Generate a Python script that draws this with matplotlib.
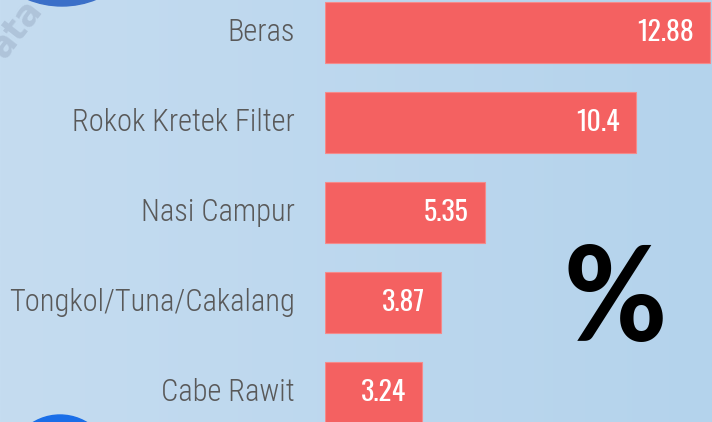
import matplotlib
matplotlib.use("Agg")
import matplotlib.pyplot as plt
import numpy as np
from matplotlib.patches import Circle
from matplotlib.colors import LinearSegmentedColormap
from matplotlib import font_manager as fm

categories = ["Beras", "Rokok Kretek Filter", "Nasi Campur", "Tongkol/Tuna/Cakalang", "Cabe Rawit"]
values = [12.88, 10.4, 5.35, 3.87, 3.24]
value_labels = ["12.88", "10.4", "5.35", "3.87", "3.24"]

W, H = 712, 422
fig = plt.figure(figsize=(W / 100, H / 100), dpi=100)

names = set(f.name for f in fm.fontManager.ttflist)
def pick(cands):
    return [c for c in cands if c in names] + ["DejaVu Sans"]
lab_family = pick(["Roboto Condensed", "Barlow Semi Condensed", "Archivo Narrow"])
val_family = pick(["Oswald", "Roboto Condensed", "Barlow Condensed"])
pct_family = pick(["Carlito", "Open Sans", "Lato"])

# background gradient
bg = fig.add_axes([0, 0, 1, 1])
grad = np.linspace(0, 1, 256)[None, :]
cmap = LinearSegmentedColormap.from_list("bg", ["#C5DCF0", "#B4D3EC"])
bg.imshow(grad, aspect="auto", cmap=cmap, extent=[0, W, H, 0])
bg.set_xlim(0, W)
bg.set_ylim(H, 0)
bg.axis("off")
bg.add_patch(Circle((62, -85), 91, color="#3B6FC8", zorder=2))
bg.add_patch(Circle((60, 467), 52, color="#1A6EE8", zorder=2))
bg.text(16, 28, "ata", rotation=52, fontsize=25, color="#AFC4DA", ha="center", va="center",
        fontweight="bold", zorder=1)

# bars axis
x0 = 325
px_per_unit = 29.9
ax = fig.add_axes([x0 / W, 0, 1 - x0 / W, 1])
ax.patch.set_alpha(0)
y = np.arange(len(categories))
ax.barh(y, values, height=0.68, color="#F46161", edgecolor="#F58A8A", linewidth=0.8, zorder=3)
ax.set_xlim(0, (W - x0) / px_per_unit)
ax.set_ylim((H - 32.5) / 90, -32.5 / 90)
ax.axis("off")

for yi, v, lab in zip(y, values, value_labels):
    ax.annotate(lab, (v, yi), xytext=(-16, 0), textcoords="offset pixels", ha="right", va="center",
                color="white", fontsize=20, fontweight="heavy", family=val_family)
for yi, c in zip(y, categories):
    ax.annotate(c, (0, yi), xytext=(-30, 0), textcoords="offset pixels", ha="right", va="center",
                color="#595959", fontsize=22, fontweight="light", family=lab_family,
                annotation_clip=False)

fig.text(615 / W, 1 - 341 / H, "%", fontsize=100, fontweight="bold", color="black", ha="center",
         va="baseline", family=pct_family)

fig.savefig("out.png", dpi=100)
